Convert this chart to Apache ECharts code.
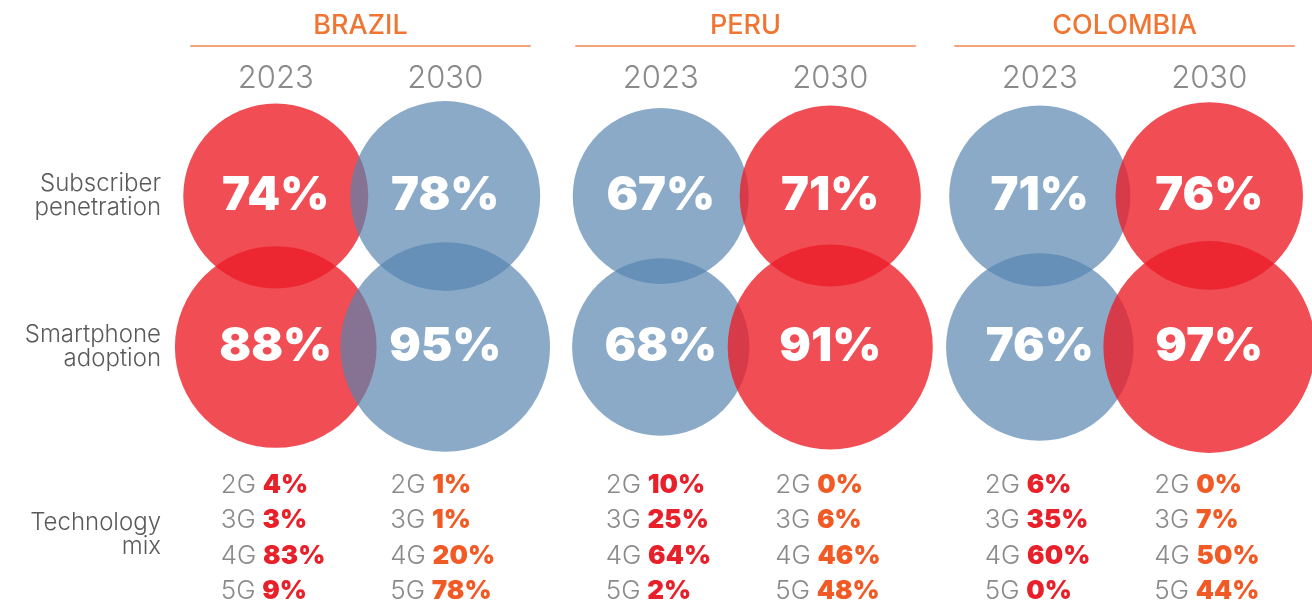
<!DOCTYPE html>
<html>
<head>
<meta charset="utf-8">
<script src="https://cdn.jsdelivr.net/npm/echarts@6/dist/echarts.min.js"></script>
<style>
  html, body { margin: 0; padding: 0; background: #fff; }
  #chart { width: 1312px; height: 603px; }
</style>
</head>
<body>
<div id="chart"></div>
<script>
// data
const countries = ['BRAZIL', 'PERU', 'COLOMBIA'];
const years = ['2023', '2030'];
const rows = ['Subscriber penetration', 'Smartphone adoption', 'Technology mix'];
const subscriberPenetration = [[74, 78], [67, 71], [71, 76]];
const smartphoneAdoption = [[88, 95], [68, 91], [76, 97]];
const techs = ['2G', '3G', '4G', '5G'];
const techMix = [
    [[4, 3, 83, 9], [1, 1, 20, 78]],
    [[10, 25, 64, 2], [0, 6, 46, 48]],
    [[6, 35, 60, 0], [0, 7, 50, 44]]
];

// which circle is red / blue, per country and year
const RED = 'rgba(236,29,39,0.79)';
const BLUE = 'rgba(85,132,175,0.69)';
const circleColors = [[RED, BLUE], [BLUE, RED], [BLUE, RED]];
const mixColors = ['#E8202A', '#F15A24'];

const FONT = 'Inter, Lato, "Open Sans", sans-serif';
const gridLefts = [191, 576, 955];
const GRID_W = 339;

let grids = [], xAxes = [], yAxes = [], series = [];

countries.forEach((country, ci) => {
    grids.push({ left: gridLefts[ci], width: GRID_W, top: 196, bottom: 105 });
    xAxes.push({
        gridIndex: ci,
        type: 'category',
        data: years,
        position: 'top',
        offset: 150,
        name: country,
        nameLocation: 'middle',
        nameGap: 7,
        nameTextStyle: { color: '#F07533', fontSize: 27, fontWeight: 500, fontFamily: FONT, verticalAlign: 'bottom' },
        axisLine: { lineStyle: { color: '#F4A37C', width: 2 } },
        axisTick: { show: false },
        axisLabel: { inside: true, margin: 17, color: '#8A8A8A', fontSize: 31, fontFamily: FONT, fontWeight: 300 },
        splitLine: { show: false }
    });
    yAxes.push({
        gridIndex: ci,
        type: 'category',
        data: rows,
        inverse: true,
        boundaryGap: false,
        axisLine: { show: false },
        axisTick: { show: false },
        splitLine: { show: false },
        axisLabel: {
            show: ci === 0,
            margin: 30,
            formatter: v => v === 'Technology mix' ? '{m|Technology\nmix}' : v.replace(' ', '\n'),
            color: '#5A5A5A',
            fontSize: 24,
            lineHeight: 24,
            fontFamily: FONT,
            fontWeight: 300,
            align: 'right',
            rich: {
                m: { color: '#5A5A5A', fontSize: 24, lineHeight: 24, fontFamily: FONT, fontWeight: 300, align: 'right', padding: [74, 0, 0, 0] }
            }
        }
    });

    // circles: 2023 first, 2030 drawn on top
    let circles = [];
    years.forEach((yr, yi) => {
        circles.push({ value: [yr, rows[0], subscriberPenetration[ci][yi]], itemStyle: { color: circleColors[ci][yi] } });
        circles.push({ value: [yr, rows[1], smartphoneAdoption[ci][yi]], itemStyle: { color: circleColors[ci][yi] } });
    });
    series.push({
        type: 'scatter',
        xAxisIndex: ci,
        yAxisIndex: ci,
        data: circles,
        symbolSize: d => 21.5 * Math.sqrt(d[2]),
        itemStyle: { opacity: 1 },
        silent: true,
        label: {
            show: true,
            position: 'inside',
            formatter: p => p.value[2] + '%',
            color: '#fff',
            fontSize: 47,
            fontWeight: 900,
            fontFamily: FONT
        }
    });

    // technology mix text blocks
    series.push({
        type: 'scatter',
        xAxisIndex: ci,
        yAxisIndex: ci,
        symbolSize: 1,
        itemStyle: { color: 'transparent', opacity: 1 },
        silent: true,
        data: years.map((yr, yi) => ({
            value: [yr, rows[2]],
            mix: techMix[ci][yi],
            label: { rich: { v: { color: mixColors[yi], fontSize: 26, fontWeight: 900, fontFamily: FONT, lineHeight: 35.5 } } }
        })),
        label: {
            show: true,
            position: 'inside',
            align: 'left',
            verticalAlign: 'middle',
            offset: [-55, 40],
            formatter: p => techs.map((t, i) => '{g|' + t + '}  {v|' + p.data.mix[i] + '%}').join('\n'),
            rich: {
                g: { color: '#8A8A8A', fontSize: 26, fontWeight: 300, fontFamily: FONT, lineHeight: 35.5 },
                v: { fontSize: 26, fontWeight: 900, fontFamily: FONT, lineHeight: 35.5 }
            }
        }
    });
});

const chart = echarts.init(document.getElementById('chart'));
chart.setOption({
    backgroundColor: '#fff',
    animation: false,
    grid: grids,
    xAxis: xAxes,
    yAxis: yAxes,
    series: series
});
</script>
</body>
</html>
